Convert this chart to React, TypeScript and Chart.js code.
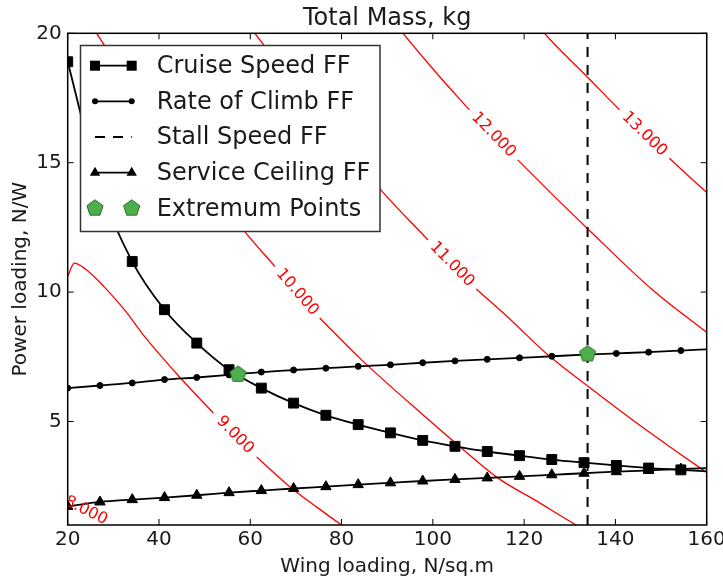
import React, { useEffect, useRef } from 'react';
import { Chart, registerables } from 'chart.js';

Chart.register(...registerables);

const FONT = "'DejaVu Sans', 'Liberation Sans', sans-serif";

// ---- data ----
const wingLoading = [20, 27.07, 34.14, 41.21, 48.28, 55.35, 62.42, 69.49, 76.57, 83.64, 90.71, 97.78, 104.85, 111.92, 118.99, 126.06, 133.13, 140.2, 147.27, 154.34, 160];
const cruiseSpeedFF = [18.9, 14.1, 11.18, 9.32, 8.03, 7.0, 6.29, 5.71, 5.24, 4.88, 4.56, 4.27, 4.04, 3.84, 3.68, 3.53, 3.41, 3.3, 3.2, 3.13, 3.07];
const rateOfClimbFF = [6.29, 6.39, 6.49, 6.62, 6.7, 6.8, 6.91, 6.99, 7.06, 7.13, 7.19, 7.27, 7.34, 7.4, 7.46, 7.52, 7.58, 7.63, 7.68, 7.74, 7.79];
const serviceCeilingFF = [1.72, 1.89, 1.98, 2.06, 2.15, 2.25, 2.33, 2.41, 2.48, 2.56, 2.63, 2.7, 2.76, 2.82, 2.88, 2.94, 3.0, 3.06, 3.11, 3.16, 3.2];
const stallSpeedX = 133.9;
const extremumX = [57.3, 133.9];
const extremumY = [6.82, 7.61];

const xTicks = [20, 40, 60, 80, 100, 120, 140, 160];
const yTicks = [5, 10, 15, 20];

// contour lines of total mass (before / after the inline label)
const contour8Before = [[10, 3.3], [16, 2.27]];
const contour8After = [[32, 0.84], [40, 0.3]];
const contour9Before = [[19.5, 10.42], [20, 10.6], [21.44, 11.12], [23.8, 10.9], [28, 10.2], [32.5, 9.3], [37, 8.25], [44.6, 6.7], [51.9, 5.33]];
const contour9After = [[61.4, 3.63], [68.6, 2.49], [74.5, 1.7], [80, 1.0], [81, 0.88]];
const contour10Before = [[25.9, 20.15], [26.35, 20], [58.8, 12.34], [65.4, 10.99]];
const contour10After = [[75.2, 9.0], [84.33, 7.39], [94.9, 5.71], [105.8, 4.04], [114.2, 2.82], [122.5, 1.95], [131.4, 1.0], [133, 0.85]];
const contour11Before = [[60.6, 20.1], [61.0, 20], [88.35, 14.0], [98.9, 12.02]];
const contour11After = [[109.5, 10.12], [116.8, 8.97], [124.8, 7.64], [135, 6.23], [146.7, 4.68], [159.1, 3.14], [161, 2.92]];
const contour12Before = [[93.0, 20.1], [93.45, 20], [101.5, 18.32], [108, 17.04]];
const contour12After = [[118.6, 15.11], [127, 13.63], [133.8, 12.47], [148.1, 10.09], [160, 8.45], [161, 8.32]];
const contour13Before = [[124.0, 20.1], [124.45, 20], [133.8, 18.32], [140.9, 17.04]];
const contour13After = [[151.8, 15.17], [160, 13.85], [161, 13.7]];
const contourLabels = ['8.000', '9.000', '10.000', '11.000', '12.000', '13.000'];

const contours = [
  { label: contourLabels[0], before: contour8Before, after: contour8After },
  { label: contourLabels[1], before: contour9Before, after: contour9After },
  { label: contourLabels[2], before: contour10Before, after: contour10After },
  { label: contourLabels[3], before: contour11Before, after: contour11After },
  { label: contourLabels[4], before: contour12Before, after: contour12After },
  { label: contourLabels[5], before: contour13Before, after: contour13After },
];

const legendLabels = ['Cruise Speed FF', 'Rate of Climb FF', 'Stall Speed FF', 'Service Ceiling FF', 'Extremum Points'];

const GREEN = '#4caf4c';
const GREEN_EDGE = '#2f6e2f';
const DASH = [10, 8];

function pentagonPath(ctx: CanvasRenderingContext2D, cx: number, cy: number, r: number) {
  ctx.beginPath();
  for (let k = 0; k < 5; k++) {
    const a = -Math.PI / 2 + (k * 2 * Math.PI) / 5;
    const px = cx + r * Math.cos(a);
    const py = cy + r * Math.sin(a);
    if (k === 0) ctx.moveTo(px, py);
    else ctx.lineTo(px, py);
  }
  ctx.closePath();
}

function drawPentagon(ctx: CanvasRenderingContext2D, cx: number, cy: number, r: number) {
  pentagonPath(ctx, cx, cy, r);
  ctx.fillStyle = GREEN;
  ctx.fill();
  ctx.lineWidth = 1;
  ctx.strokeStyle = GREEN_EDGE;
  ctx.stroke();
}

function makePentagonCanvas(r: number) {
  const c = document.createElement('canvas');
  const s = Math.ceil(2 * r + 4);
  c.width = s;
  c.height = s;
  const ctx = c.getContext('2d')!;
  drawPentagon(ctx, s / 2, s / 2, r);
  return c;
}

const toPts = (xs: number[], ys: number[]) => xs.map((x, i) => ({ x, y: ys[i] }));
const contourData = (a: number[][], b: number[][]) => [
  ...a.map(([x, y]) => ({ x, y })),
  { x: a[a.length - 1][0], y: null as any },
  ...b.map(([x, y]) => ({ x, y })),
];

const overlayPlugin = {
  id: 'overlay',
  afterDatasetsDraw(chart: any) {
    const { ctx, chartArea: area } = chart;
    const xs = chart.scales.x;
    const ys = chart.scales.y;

    // contour labels
    ctx.save();
    ctx.beginPath();
    ctx.rect(area.left, area.top, area.right - area.left, area.bottom - area.top);
    ctx.clip();
    ctx.font = `16px ${FONT}`;
    ctx.fillStyle = '#ff0000';
    ctx.textAlign = 'center';
    ctx.textBaseline = 'middle';
    for (const c of contours) {
      const p = c.before[c.before.length - 1];
      const q = c.after[0];
      const x1 = xs.getPixelForValue(p[0]);
      const y1 = ys.getPixelForValue(p[1]);
      const x2 = xs.getPixelForValue(q[0]);
      const y2 = ys.getPixelForValue(q[1]);
      const ang = Math.atan2(y2 - y1, x2 - x1);
      ctx.save();
      ctx.translate((x1 + x2) / 2, (y1 + y2) / 2);
      ctx.rotate(ang);
      ctx.fillText(c.label, 0, 0);
      ctx.restore();
    }
    ctx.restore();

    // frame
    ctx.save();
    ctx.strokeStyle = '#000';
    ctx.lineWidth = 1.5;
    ctx.strokeRect(area.left, area.top, area.right - area.left, area.bottom - area.top);
    // inward ticks
    ctx.lineWidth = 1;
    const TL = 6;
    ctx.beginPath();
    for (const t of xs.ticks) {
      const px = xs.getPixelForValue(t.value);
      ctx.moveTo(px, area.bottom);
      ctx.lineTo(px, area.bottom - TL);
      ctx.moveTo(px, area.top);
      ctx.lineTo(px, area.top + TL);
    }
    for (const t of ys.ticks) {
      const py = ys.getPixelForValue(t.value);
      ctx.moveTo(area.left, py);
      ctx.lineTo(area.left + TL, py);
      ctx.moveTo(area.right, py);
      ctx.lineTo(area.right - TL, py);
    }
    ctx.stroke();
    ctx.restore();

    // legend
    ctx.save();
    const bx = 80.5, by = 45.5, bw = 299.5, bh = 186;
    ctx.fillStyle = '#fff';
    ctx.fillRect(bx, by, bw, bh);
    ctx.strokeStyle = '#333';
    ctx.lineWidth = 1.5;
    ctx.strokeRect(bx, by, bw, bh);
    const hx1 = 95, hx2 = 131.7, tx = 156.7;
    const rowY = (i: number) => 65.7 + 35.65 * i;
    ctx.strokeStyle = '#000';
    ctx.fillStyle = '#000';
    for (let i = 0; i < 5; i++) {
      const y = rowY(i);
      if (i !== 4) {
        ctx.lineWidth = 1.8;
        ctx.setLineDash(i === 2 ? DASH : []);
        ctx.beginPath();
        ctx.moveTo(hx1, y);
        ctx.lineTo(hx2, y);
        ctx.stroke();
        ctx.setLineDash([]);
      }
      for (const mx of [hx1, hx2]) {
        if (i === 0) {
          ctx.fillRect(mx - 5, y - 5, 10, 10);
        } else if (i === 1) {
          ctx.beginPath();
          ctx.arc(mx, y, 3, 0, Math.PI * 2);
          ctx.fill();
        } else if (i === 3) {
          ctx.beginPath();
          ctx.moveTo(mx, y - 6);
          ctx.lineTo(mx + 5.2, y + 3);
          ctx.lineTo(mx - 5.2, y + 3);
          ctx.closePath();
          ctx.fill();
        } else if (i === 4) {
          drawPentagon(ctx, mx, y, 8.5);
          ctx.fillStyle = '#000';
        }
      }
    }
    ctx.font = `24px ${FONT}`;
    ctx.fillStyle = '#1a1a1a';
    ctx.textAlign = 'left';
    ctx.textBaseline = 'middle';
    legendLabels.forEach((t, i) => ctx.fillText(t, tx, rowY(i) + 1));
    ctx.restore();
  },
};

export default function App() {
  const ref = useRef<HTMLCanvasElement>(null);

  useEffect(() => {
    const canvas = ref.current!;
    const pent = makePentagonCanvas(8.5);
    const markerRadius = (r: number) => wingLoading.map((_, i) => (i < 20 ? r : 0));

    const contourSets = contours.map((c) => ({
      label: 'contour ' + c.label,
      data: contourData(c.before, c.after),
      borderColor: '#ff0000',
      borderWidth: 1.3,
      pointRadius: 0,
      spanGaps: false,
      cubicInterpolationMode: 'monotone' as const,
      clip: 0,
      order: 5,
    }));

    const chart = new Chart(canvas, {
      type: 'line',
      data: {
        datasets: [
          {
            label: legendLabels[4],
            data: toPts(extremumX, extremumY),
            showLine: false,
            pointStyle: pent as any,
            pointRadius: 9,
            clip: 0,
            order: 0,
          },
          {
            label: legendLabels[0],
            data: toPts(wingLoading, cruiseSpeedFF),
            borderColor: '#000',
            backgroundColor: '#000',
            borderWidth: 1.8,
            pointStyle: 'rect',
            pointRadius: markerRadius(7),
            pointBorderWidth: 1,
            pointBackgroundColor: '#000',
            pointBorderColor: '#000',
            cubicInterpolationMode: 'monotone',
            clip: 0,
            order: 1,
          },
          {
            label: legendLabels[1],
            data: toPts(wingLoading, rateOfClimbFF),
            borderColor: '#000',
            backgroundColor: '#000',
            borderWidth: 1.8,
            pointStyle: 'circle',
            pointRadius: markerRadius(3),
            pointBorderWidth: 1,
            pointBackgroundColor: '#000',
            pointBorderColor: '#000',
            cubicInterpolationMode: 'monotone',
            clip: 0,
            order: 1,
          },
          {
            label: legendLabels[3],
            data: toPts(wingLoading, serviceCeilingFF),
            borderColor: '#000',
            backgroundColor: '#000',
            borderWidth: 1.8,
            pointStyle: 'triangle',
            pointRadius: markerRadius(6),
            pointBorderWidth: 1,
            pointBackgroundColor: '#000',
            pointBorderColor: '#000',
            cubicInterpolationMode: 'monotone',
            clip: 0,
            order: 1,
          },
          {
            label: legendLabels[2],
            data: [
              { x: stallSpeedX, y: 1 },
              { x: stallSpeedX, y: 20 },
            ],
            borderColor: '#000',
            borderWidth: 2,
            borderDash: DASH,
            pointRadius: 0,
            clip: 0,
            order: 2,
          },
          ...contourSets,
        ] as any,
      },
      options: {
        responsive: false,
        animation: false,
        devicePixelRatio: 1,
        events: [],
        layout: { padding: { left: 0, right: 16.3, top: 0, bottom: 0 } },
        plugins: {
          legend: { display: false },
          tooltip: { enabled: false },
          title: {
            display: true,
            text: 'Total Mass, kg',
            fullSize: false,
            color: '#1a1a1a',
            font: { family: FONT, size: 24, weight: 'normal' },
            padding: { top: 4, bottom: 0.5 },
          },
        },
        scales: {
          x: {
            type: 'linear',
            min: 20,
            max: 160,
            afterBuildTicks: (s: any) => {
              s.ticks = xTicks.map((v) => ({ value: v }));
            },
            afterFit: (s: any) => {
              s.height = 59;
              s.paddingLeft = 0;
              s.paddingRight = 0;
            },
            grid: { display: false, drawTicks: false },
            border: { display: false },
            ticks: {
              color: '#1a1a1a',
              font: { family: FONT, size: 20 },
              padding: 3,
              maxRotation: 0,
              autoSkip: false,
            },
            title: {
              display: true,
              text: 'Wing loading, N/sq.m',
              color: '#1a1a1a',
              font: { family: FONT, size: 20 },
              padding: { top: 0, bottom: 5.5 },
            },
          },
          y: {
            type: 'linear',
            min: 1,
            max: 20,
            afterBuildTicks: (s: any) => {
              s.ticks = yTicks.map((v) => ({ value: v }));
            },
            afterFit: (s: any) => {
              s.width = 67.7;
              s.paddingTop = 0;
              s.paddingBottom = 0;
            },
            grid: { display: false, drawTicks: false },
            border: { display: false },
            ticks: {
              color: '#1a1a1a',
              font: { family: FONT, size: 20 },
              padding: 6,
              autoSkip: false,
            },
            title: {
              display: true,
              text: 'Power loading, N/W',
              color: '#1a1a1a',
              font: { family: FONT, size: 20 },
              padding: { top: 9, bottom: 0 },
            },
          },
        },
      } as any,
      plugins: [overlayPlugin],
    });

    return () => chart.destroy();
  }, []);

  return (
    <div style={{ position: 'fixed', left: 0, top: 0, width: 723, height: 584, background: '#fff' }}>
      <canvas ref={ref} width={723} height={584} style={{ display: 'block' }} />
    </div>
  );
}
